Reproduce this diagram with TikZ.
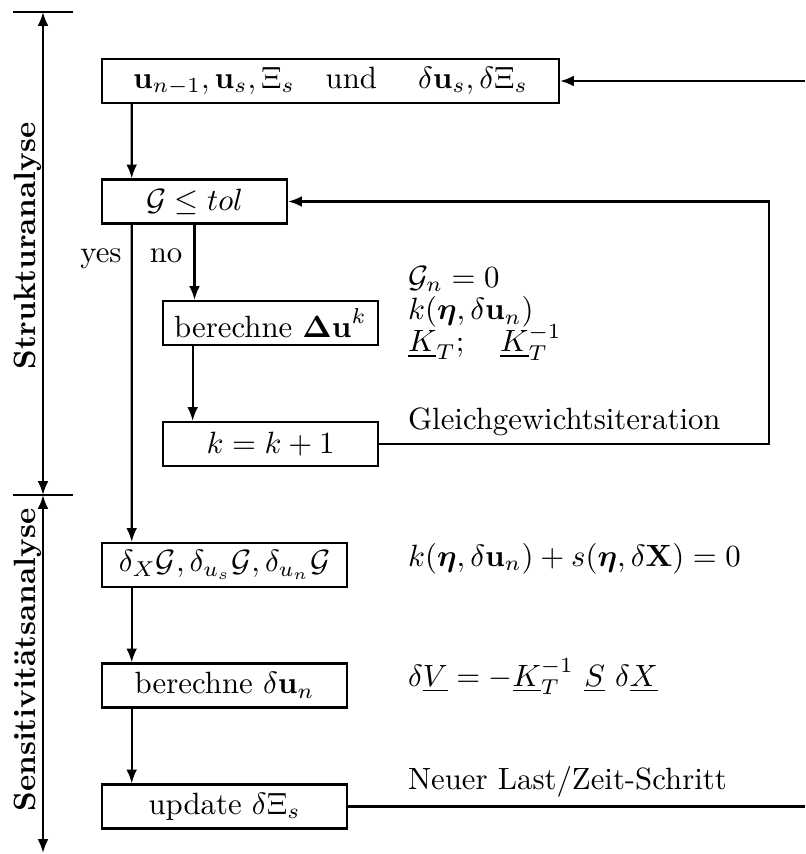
\documentclass[tikz,border=0pt]{standalone}
\usepackage{amsmath,amssymb}
\usepackage{tikz}
\usetikzlibrary{arrows.meta}

\tikzset{
  flowbox/.style={draw,line width=0.7pt,minimum height=14.3pt,inner sep=0pt},
  note/.style={anchor=base west,inner sep=0pt},
  phase/.style={rotate=90,anchor=base,inner sep=0pt,font=\bfseries},
}

\begin{document}
\begin{tikzpicture}[x=0.325pt,y=-0.325pt,>={Latex[length=4.5pt,width=3.5pt]},line width=0.7pt]
\useasboundingbox (0,0) rectangle (805,854);
% phase axis
\coordinate (top) at (43,12);
\coordinate (mid) at (43,495);
\coordinate (bot) at (43,853);
\draw (13,12) -- (73,12);
\draw (13,495) -- (73,495);
\draw[<->] (top) -- (mid);
\draw[<->] (mid) -- (bot);
\node[phase] (struct) at (35,246) {Strukturanalyse};
\node[phase] (sens) at (35,660) {Sensitivit\"atsanalyse};

% boxes
\node[flowbox,minimum width=148.5pt] (start) at (330.5,81)
  {$\mathbf{u}_{n-1},\mathbf{u}_s,\Xi_s\quad\text{und}\quad\ \delta\mathbf{u}_s,\delta\Xi_s$};
\node[flowbox,minimum width=60.1pt] (check) at (194.5,201.5) {$\mathcal{G}\leq tol$};
\node[flowbox,minimum width=69.9pt] (newton) at (270.5,323) {berechne $\mathbf{\Delta u}^k$};
\node[flowbox,minimum width=69.9pt] (incr) at (270.5,444) {$k=k+1$};
\node[flowbox,minimum width=79.6pt] (deriv) at (224.5,565)
  {$\delta_X\mathcal{G},\delta_{u_s}\mathcal{G},\delta_{u_n}\mathcal{G}$};
\node[flowbox,minimum width=79.6pt] (solve) at (224.5,685.5) {berechne $\delta\mathbf{u}_n$};
\node[flowbox,minimum width=79.6pt] (update) at (224.5,806.5) {update $\delta\Xi_s$};

\node[anchor=base,inner sep=0pt] (yes) at (101,262) {yes};
\node[anchor=base,inner sep=0pt] (no) at (166,262) {no};

% side notes
\node[note,anchor=north west,align=left] (resid) at (407,265)
  {$\mathcal{G}_n=0$\\[-1.5pt]
   $k(\boldsymbol{\eta},\delta\mathbf{u}_n)$\\[-1.5pt]
   $\underline{K}_T;\quad\underline{K}_T^{-1}$};
\node[note] (equil) at (407,429) {Gleichgewichtsiteration};
\node[note] (sform) at (407,566)
  {$k(\boldsymbol{\eta},\delta\mathbf{u}_n)+s(\boldsymbol{\eta},\delta\mathbf{X})=0$};
\node[note] (sol) at (407,686) {$\delta\underline{V}=-\underline{K}_T^{-1}\ \underline{S}\ \delta\underline{X}$};
\node[note] (nstep) at (407,789) {Neuer Last/Zeit-Schritt};

% connectors
\coordinate (rim) at (805,0);
\coordinate (loopr) at (769,300);
\draw[->] (rim |- start.east) -- (start.east);
\draw[->] ([xshift=10pt]start.south west) -- ([xshift=10pt]check.north west);
\draw[->] (check.south) -- (check.south |- newton.north);
\draw[->] ([xshift=10pt]newton.south west) -- ([xshift=10pt]incr.north west);
\draw[->] (incr.east) -| (loopr) |- (check.east);
\draw[->] ([xshift=10pt]check.south west) -- ([xshift=10pt]deriv.north west);
\draw[->] ([xshift=10pt]deriv.south west) -- ([xshift=10pt]solve.north west);
\draw[->] ([xshift=10pt]solve.south west) -- ([xshift=10pt]update.north west);
\draw (update.east) -- (update.east -| rim);
\end{tikzpicture}
\end{document}
